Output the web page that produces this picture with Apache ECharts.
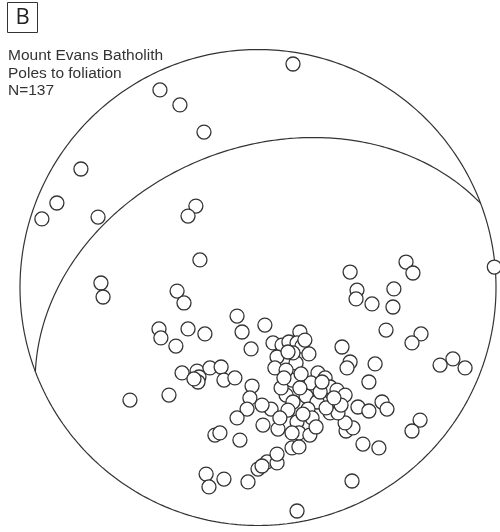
<!DOCTYPE html>
<html>
<head>
<meta charset="utf-8">
<script src="https://cdn.jsdelivr.net/npm/echarts@6/dist/echarts.min.js"></script>
<style>
  html, body { margin: 0; padding: 0; background: #fff; }
  #chart { width: 500px; height: 532px; }
</style>
</head>
<body>
<div id="chart"></div>
<script>
// Equal-area (Schmidt) net, lower hemisphere. Coordinates are in percent of the
// net radius: east = +x, north = +y.
var poleEast = [
  14.7, -41.2, -32.8, -22.7, -74.4, -84.5, -90.8, -67.2, -26.1, -29.4,
  -24.4, -66.0, -65.1, -34.0, -31.1, 99.3, 62.2, 65.1, 38.7, 41.6,
  41.2, 47.9, 57.1, 56.7, -8.8, 2.9, -41.6, -40.8, -34.5, -29.4,
  -22.3, -6.7, -2.9, 17.6, 53.8, 68.5, 64.7, 76.5, 81.9, 87.0,
  35.3, 38.7, 37.4, 49.2, 46.6, 6.3, 10.1, 13.0, 16.4, 18.5,
  8.0, 7.1, 16.0, 14.7, 21.4, 25.2, 28.2, 14.3, -31.9, -25.6,
  -24.8, -25.2, -26.9, -20.2, -15.5, -14.3, -9.7, -2.5, -3.4, -4.6,
  -8.8, -37.4, -53.8, -18.1, -16.0, -7.6, -21.8, -20.6, -14.3, -4.2,
  0.0, 3.8, 8.0, 8.0, 14.3, 17.2, 2.1, 8.4, 16.4, 17.2,
  21.8, 16.4, 39.5, 44.1, 50.8, 37.0, 39.9, 36.6, 68.1, 64.7,
  42.0, 46.6, 52.1, 54.2, 30.3, 33.2, 36.6, 27.3, 30.3, 33.6,
  11.8, 14.7, 20.2, 22.3, 24.8, 21.0, 28.6, 22.7, 5.5, 12.6,
  9.7, 17.6, 18.9, 26.1, 11.8, 10.9, 1.7, 34.9, 24.4, 18.1,
  9.2, 14.3, 12.6, 19.7, 26.9, 31.9, 1.7
];
var poleNorth = [
  93.9, 83.0, 76.7, 65.3, 49.8, 35.5, 28.8, 29.6, 34.2, 30.0,
  11.6, 1.9, -4.0, -1.5, -6.5, 8.6, 10.7, 6.1, 6.5, -1.1,
  -4.8, -6.9, -0.6, -8.2, -12.0, -15.8, -17.4, -21.2, -24.6, -17.4,
  -19.5, -18.7, -25.8, -18.7, -17.9, -19.5, -23.3, -32.6, -30.0, -33.8,
  -25.0, -31.3, -33.8, -32.1, -39.7, -23.3, -24.2, -22.9, -23.3, -24.6,
  -29.2, -33.8, -31.7, -27.5, -27.9, -35.9, -38.0, -38.9, -35.9, -35.1,
  -37.6, -39.7, -38.4, -33.8, -33.4, -38.9, -38.0, -41.4, -46.4, -51.1,
  -54.8, -45.2, -47.3, -62.0, -61.1, -64.1, -78.4, -83.8, -80.5, -81.7,
  -76.3, -73.3, -73.7, -70.0, -67.4, -67.0, -57.8, -59.5, -56.5, -61.1,
  -62.0, -93.9, -81.3, -65.8, -67.4, -60.3, -59.0, -56.9, -55.7, -60.3,
  -50.2, -51.9, -48.1, -51.1, -41.8, -43.1, -45.2, -48.5, -52.7, -52.7,
  -45.2, -48.1, -45.6, -40.1, -48.1, -51.1, -50.6, -54.8, -51.1, -51.5,
  -42.2, -42.2, -53.2, -43.9, -34.7, -38.0, -49.4, -49.4, -58.6, -36.3,
  -54.8, -61.1, -27.1, -22.1, -39.7, -46.4, -75.0
];

// Mean foliation plane (right-hand rule)
var planeStrike = 249.3;
var planeDip = 41;

var titleLines = ['Mount Evans Batholith', 'Poles to foliation', 'N=137'];
var panelLabel = 'B';

var rad = Math.PI / 180;

// equal-area projection of a line given trend/plunge (degrees) -> percent of radius
function project(trend, plunge) {
  var r = 100 * Math.SQRT2 * Math.sin((90 - plunge) * rad / 2);
  return [r * Math.sin(trend * rad), r * Math.cos(trend * rad)];
}

// primitive circle
var primitive = [];
for (var a = 0; a <= 360; a += 1) primitive.push(project(a, 0));

// great circle of the plane
function greatCircle(strike, dip) {
  var dd = strike + 90;
  var s = [Math.sin(strike * rad), Math.cos(strike * rad), 0];
  var d = [Math.sin(dd * rad) * Math.cos(dip * rad), Math.cos(dd * rad) * Math.cos(dip * rad), Math.sin(dip * rad)];
  var pts = [];
  for (var k = 0; k <= 180; k += 1) {
    var c = Math.cos(k * rad), sn = Math.sin(k * rad);
    var e = c * s[0] + sn * d[0], n = c * s[1] + sn * d[1], z = c * s[2] + sn * d[2];
    var plunge = Math.asin(Math.max(-1, Math.min(1, z))) / rad;
    var trend = Math.atan2(e, n) / rad;
    pts.push(project(trend, plunge));
  }
  return pts;
}

var poles = poleEast.map(function (x, i) { return [x, poleNorth[i]]; });

var chart = echarts.init(document.getElementById('chart'), null, { renderer: 'canvas' });
chart.setOption({
  animation: false,
  backgroundColor: '#fff',
  grid: { left: 20, top: 49.5, width: 476, height: 476 },
  xAxis: { type: 'value', min: -100, max: 100, show: false },
  yAxis: { type: 'value', min: -100, max: 100, show: false },
  graphic: [
    { type: 'rect', shape: { x: 7.5, y: 2.5, width: 30, height: 30 },
      style: { fill: '#fff', stroke: '#333', lineWidth: 1 } },
    { type: 'text', x: 22.5, y: 18, style: { text: panelLabel, font: '22px "Open Sans", sans-serif',
      fill: '#222', align: 'center', verticalAlign: 'middle' } },
    { type: 'text', x: 8, y: 47, style: { text: titleLines.join('\n'), font: '15.5px "Liberation Sans", Arial, sans-serif',
      fill: '#333', lineHeight: 17.5 } }
  ],
  series: [
    { type: 'line', data: primitive, showSymbol: false, silent: true,
      lineStyle: { color: '#333', width: 1.2 }, z: 1 },
    { type: 'line', data: greatCircle(planeStrike, planeDip), showSymbol: false, silent: true,
      lineStyle: { color: '#333', width: 1.2 }, z: 1 },
    { type: 'scatter', data: poles, symbol: 'circle', symbolSize: 14,
      itemStyle: { color: '#fff', borderColor: '#333', borderWidth: 1.3, opacity: 1 }, z: 2 }
  ]
});
</script>
</body>
</html>
